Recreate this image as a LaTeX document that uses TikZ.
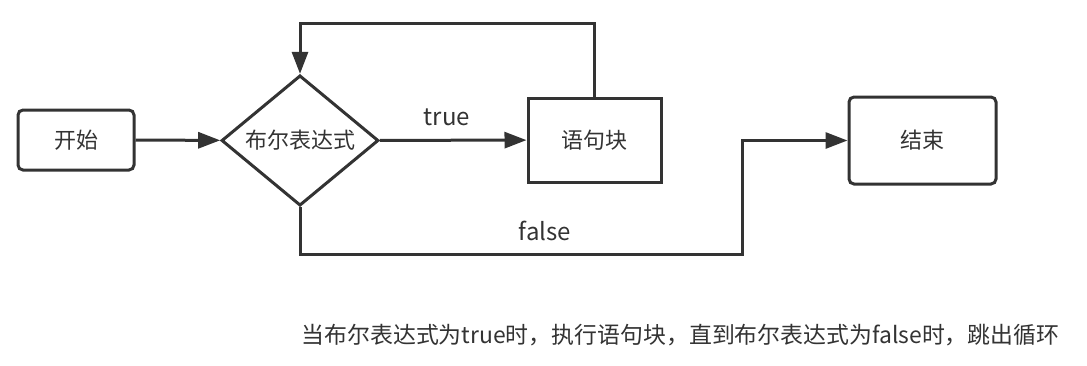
\documentclass[tikz,border=0pt]{standalone}
\usepackage{fontspec}
\setmainfont{Noto Sans CJK SC}
\usetikzlibrary{arrows.meta,shapes.geometric}
\definecolor{ink}{HTML}{333333}
\tikzset{
  flow/.style={draw=ink, line width=3pt, text=ink, font=\fontsize{22}{26}\selectfont, inner sep=0pt},
  term/.style={flow, rectangle, rounded corners=5pt},
  stmt/.style={flow, rectangle},
  cond/.style={flow, diamond},
  link/.style={draw=ink, line width=3pt, -{Triangle[length=22pt,width=16pt]}},
  lbl/.style={text=ink, font=\fontsize{24}{28}\selectfont, inner sep=0pt},
}
\begin{document}
\begin{tikzpicture}[x=1pt, y=-1pt]
  \useasboundingbox (0,0) rectangle (1087,365);
  % nodes
  \node[term, minimum width=116pt, minimum height=60pt] (start) at (76,140) {开始};
  \node[cond, minimum width=157pt, minimum height=125pt] (test) at (300,140.5) {布尔表达式};
  \node[stmt, minimum width=133pt, minimum height=84pt] (body) at (594.5,140) {语句块};
  \node[term, minimum width=147pt, minimum height=87pt] (stop) at (922.5,140.5) {结束};
  % connectors
  \draw[link] (start) -- (test);
  \draw[link] (test) -- (body);
  \node[lbl] (ltrue) at (447,117) {true};
  \draw[link] (body.north) -- ++(0,-73) -| (test.north);
  \coordinate (fbend) at (742.5,254);
  \draw[link] (test.south) |- (fbend) |- (stop.west);
  \node[lbl] (lfalse) at (545,231) {false};
  % caption
  \node[lbl, font=\fontsize{22.9}{27}\selectfont] (note) at (680.5,335) {当布尔表达式为true时，执行语句块，直到布尔表达式为false时，跳出循环};
\end{tikzpicture}
\end{document}
